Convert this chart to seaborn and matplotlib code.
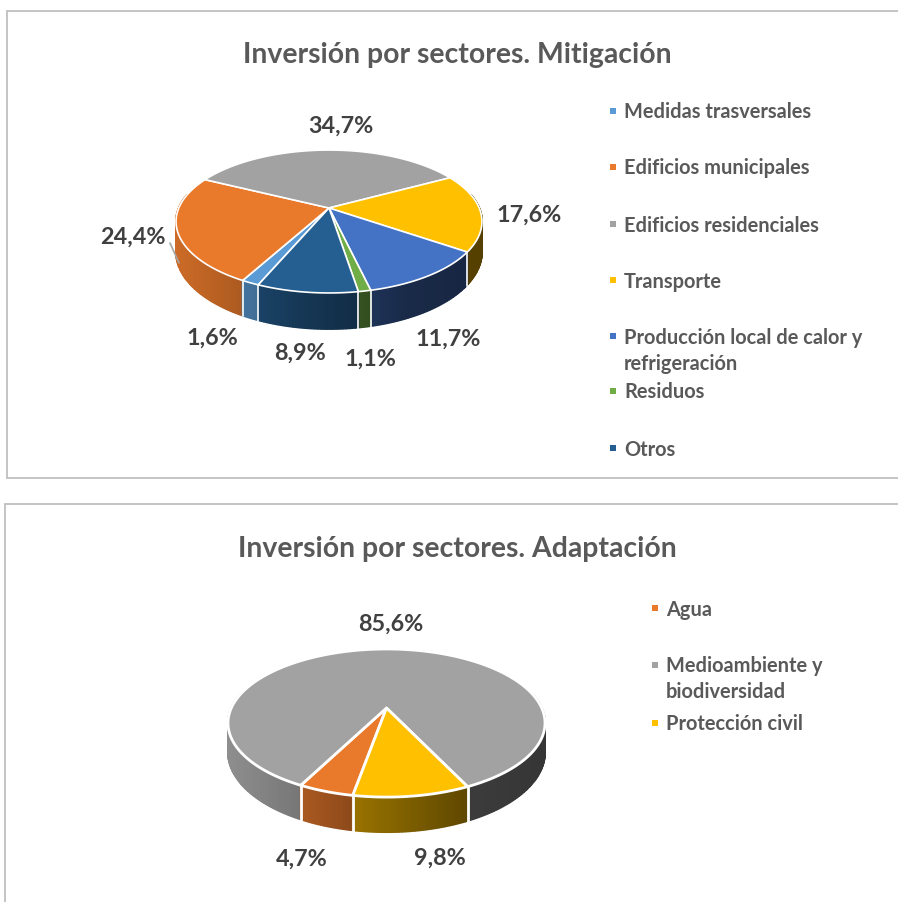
import numpy as np
import pandas as pd
import matplotlib
matplotlib.use('Agg')
import matplotlib.pyplot as plt
from matplotlib.patches import Polygon, Rectangle
import seaborn as sns

# datos
mit_labels = ['Medidas trasversales', 'Edificios municipales', 'Edificios residenciales', 'Transporte',
              'Producción local de calor y\nrefrigeración', 'Residuos', 'Otros']
mit_values = [1.6, 24.4, 34.7, 17.6, 11.7, 1.1, 8.9]
mit_colors = ['#5B9BD5', '#E97A2C', '#A2A2A2', '#FFC000', '#4472C4', '#70AD47', '#255E91']

ada_labels = ['Agua', 'Medioambiente y\nbiodiversidad', 'Protección civil']
ada_values = [4.7, 85.6, 9.8]
ada_colors = ['#E97A2C', '#A2A2A2', '#FFC000']

TEXT = '#595959'
LABEL = '#404040'


def project(theta, g):
    # disco visto en perspectiva: theta en grados, horario desde arriba
    t = np.radians(theta)
    u, v = np.sin(t), -np.cos(t)
    w = 1 - g['k'] * v
    x = g['cx'] + g['a'] * u / w
    y = g['cy'] + g['b'] * v / w
    return x, y, g['depth'] * (1 - g['k']) / w, v


def draw_pie(ax, values, colors, g):
    total = sum(values)
    edges = g['start'] + np.cumsum([0] + list(values)) / total * 360
    palette = sns.color_palette(colors)
    rx = g['a'] / np.sqrt(1 - g['k'] ** 2)

    # paredes laterales
    strips = []
    for i, col in enumerate(palette):
        th = np.linspace(edges[i], edges[i + 1], max(2, int(edges[i + 1] - edges[i]) + 2))
        for t0, t1 in zip(th[:-1], th[1:]):
            x, y, d, v = project(np.array([t0, t1]), g)
            if v.mean() < -0.2:
                continue
            shade = np.interp((x.mean() - g['cx']) / rx, [-1, -0.5, -0.2, 0.5, 1], [0.88, 0.72, 0.6, 0.37, 0.33])
            strips.append((v.mean(), x, y, d, tuple(np.array(col) * shade)))
    for _, x, y, d, c in sorted(strips, key=lambda s: s[0]):
        pts = [(x[0], y[0]), (x[1], y[1]), (x[1], y[1] + d[1]), (x[0], y[0] + d[0])]
        ax.add_patch(Polygon(pts, closed=True, fc=c, ec=c, lw=1.4, joinstyle='bevel'))
    for e in edges[:-1]:
        x, y, d, v = project(e, g)
        if v > 0:
            ax.plot([x, x], [y, y + d + 1], color='white', lw=g['lw'])

    # cara superior
    for i, col in enumerate(palette):
        th = np.linspace(edges[i], edges[i + 1], max(3, int(edges[i + 1] - edges[i]) * 2))
        x, y, _, _ = project(th, g)
        pts = [(g['cx'], g['cy'])] + list(zip(x, y))
        ax.add_patch(Polygon(pts, closed=True, fc=col, ec='white', lw=g['lw'], joinstyle='round'))


def draw_legend(ax, labels, colors, ys, x_mark, x_text):
    df = pd.DataFrame({'x': [x_mark] * len(labels), 'y': [r[0] for r in ys], 'serie': labels})
    sns.scatterplot(data=df, x='x', y='y', hue='serie', palette=colors, marker='s', s=13, linewidth=0,
                    legend=False, ax=ax)
    for lab, row in zip(labels, ys):
        for line, y in zip(lab.split('\n'), row):
            ax.text(x_text, y + 1.5, line, fontsize=LEG_SIZE, fontweight='bold', color=TEXT, va='center', ha='left')


def pct(v):
    return f'{v:.1f}%'.replace('.', ',')


LEG_SIZE = 14.4
PCT_SIZE = 16.8
TITLE_SIZE = 20.4

sns.set_theme(style='white')
plt.rcParams['font.family'] = ['Lato', 'DejaVu Sans']

fig = plt.figure(figsize=(8.98, 9.02), dpi=100)
ax = fig.add_axes([0, 0, 1, 1])

# los marcos se salen por la derecha y por abajo
ax.add_patch(Rectangle((7, 11), 950, 467, fc='white', ec='#BFBFBF', lw=1.3))
ax.add_patch(Rectangle((5, 504), 950, 450, fc='white', ec='#BFBFBF', lw=1.3))

ax.plot([170, 179], [243, 263], color='#A6A6A6', lw=1.2)

geo_mit = dict(cx=329, cy=208, a=150.2, b=68.9, k=0.189, depth=36, start=202.9, lw=1.2)
geo_ada = dict(cx=386.5, cy=708, a=155.2, b=71, k=0.203, depth=35, start=190, lw=2)
draw_pie(ax, mit_values, mit_colors, geo_mit)
draw_pie(ax, ada_values, ada_colors, geo_ada)

ax.text(457.5, 55, 'Inversión por sectores. Mitigación', fontsize=TITLE_SIZE, fontweight='bold', color=TEXT,
        ha='center', va='center')
ax.text(457.5, 549, 'Inversión por sectores. Adaptación', fontsize=TITLE_SIZE, fontweight='bold', color=TEXT,
        ha='center', va='center')

mit_pos = [(212, 338), (133, 237), (341, 126), (529, 215), (448, 339), (370, 359), (300, 353)]
for v, (x, y) in zip(mit_values, mit_pos):
    ax.text(x, y, pct(v), fontsize=PCT_SIZE, fontweight='bold', color=LABEL, ha='center', va='center')
ada_pos = [(302, 859), (391, 624), (440, 858)]
for v, (x, y) in zip(ada_values, ada_pos):
    ax.text(x, y, pct(v), fontsize=PCT_SIZE, fontweight='bold', color=LABEL, ha='center', va='center')

draw_legend(ax, mit_labels, mit_colors, [[111], [167], [224], [280], [336, 362], [391], [448]], 613, 624)
draw_legend(ax, ada_labels, ada_colors, [[608], [665, 691], [723]], 655, 666)

ax.set_xlim(0, 898)
ax.set_ylim(902, 0)
ax.axis('off')

fig.savefig('out.png', dpi=100)
